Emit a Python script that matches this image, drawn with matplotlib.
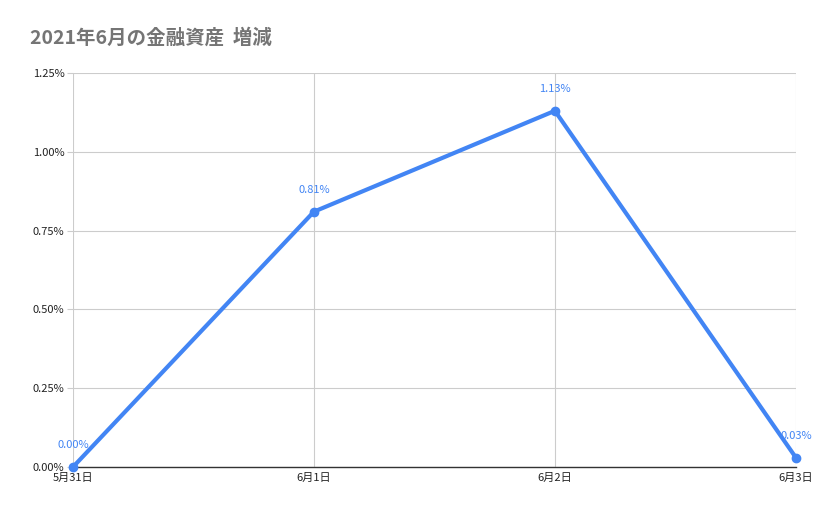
import matplotlib
matplotlib.use('Agg')
import matplotlib.pyplot as plt
from matplotlib.ticker import FuncFormatter

plt.rcParams['font.family'] = ['Noto Sans CJK JP', 'DejaVu Sans']

dates = ['5月31日', '6月1日', '6月2日', '6月3日']
change_pct = [0.00, 0.81, 1.13, 0.03]
y_ticks = [0, 0.25, 0.5, 0.75, 1.0, 1.25]

blue = '#4285f4'

fig = plt.figure(figsize=(8.29, 5.14), dpi=100)
ax = fig.add_axes([0.088, 0.0914, 0.872, 0.7666])

x = list(range(len(dates)))
ax.plot(x, change_pct, color=blue, linewidth=3, marker='o', markersize=6,
        clip_on=False, zorder=3)
for xi, v in zip(x, change_pct):
    ax.annotate(f'{v:.2f}%', (xi, v), xytext=(0, 12), textcoords='offset points',
                ha='center', va='bottom', color=blue, fontsize=8)

ax.set_xlim(0, len(dates) - 1)
ax.set_ylim(0, 1.25)
ax.set_xticks(x)
ax.set_xticklabels(dates)
ax.set_yticks(y_ticks)
ax.yaxis.set_major_formatter(FuncFormatter(lambda v, p: f'{v:.2f}%'))
ax.tick_params(axis='y', length=4, color='#cccccc', width=0.8, pad=2)
ax.tick_params(axis='x', length=0, pad=4)
ax.tick_params(labelsize=8, labelcolor='#222222')
ax.grid(True, color='#cccccc', linewidth=0.8)
ax.set_axisbelow(True)
for side in ['top', 'right', 'left']:
    ax.spines[side].set_visible(False)
ax.spines['bottom'].set_color('#333333')
ax.spines['bottom'].set_linewidth(1)

fig.text(0.036, 0.926, '2021年6月の金融資産  増減', fontsize=14, fontweight='bold',
         color='#757575', ha='left', va='center')

fig.savefig('out.png', dpi=100)
